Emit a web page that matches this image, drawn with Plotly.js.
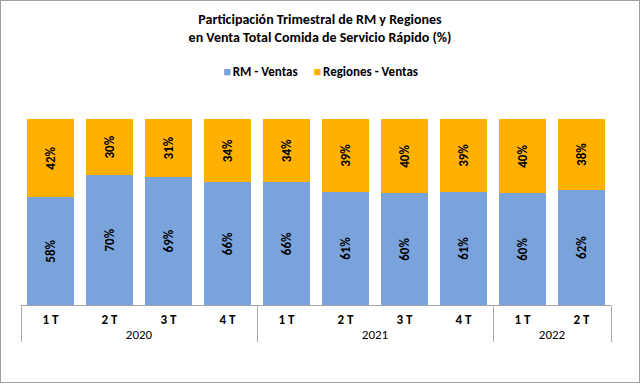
<!DOCTYPE html>
<html>
<head>
<meta charset="utf-8">
<script src="https://cdn.plot.ly/plotly-3.0.1.min.js"></script>
<style>
html,body{margin:0;padding:0;background:#fff;}
#chart{position:absolute;left:0;top:0;width:638px;height:381px;border:1px solid #a0a0a0;}
</style>
</head>
<body>
<div id="chart"></div>
<script>
var years = ["2020","2020","2020","2020","2021","2021","2021","2021","2022","2022"];
var quarters = ["1 T","2 T","3 T","4 T","1 T","2 T","3 T","4 T","1 T","2 T"];
var rmVentas = [58,70,69,66,66,61,60,61,60,62];
var regionesVentas = [42,30,31,34,34,39,40,39,40,38];
var seriesNames = ["RM - Ventas", "Regiones - Ventas"];
var seriesColors = ["#7aa3dc", "#ffb000"];

var FONT = "Carlito, 'Liberation Sans Narrow', 'Open Sans', sans-serif";

function pct(arr){ return arr.map(function(v){ return "<b>" + v + "%</b>"; }); }
var quarterLabels = quarters.map(function(q){ return "<b>" + q + "</b>"; });

var values = [rmVentas, regionesVentas];
var legendIds = ["legend", "legend2"];
var traces = [];
values.forEach(function(vals, i){
  traces.push({
    type: "bar", name: seriesNames[i], showlegend: false,
    x: [years, quarterLabels], y: vals,
    marker: {color: seriesColors[i]},
    text: pct(vals), textposition: "inside", insidetextanchor: "middle",
    textangle: -90, textfont: {family: FONT, size: 13, color: "#000"},
    hoverinfo: "skip"
  });
});
// legend entries: swatch drawn as a coloured square glyph right before the name
values.forEach(function(vals, i){
  traces.push({
    type: "scatter", mode: "markers",
    name: "<span style='color:" + seriesColors[i] + "'>■</span>\u200A<b>" + seriesNames[i] + "</b>",
    x: [null], y: [null], xaxis: "x2", yaxis: "y2",
    marker: {symbol: "square", size: 1, color: "rgba(0,0,0,0)", line: {width: 0}},
    showlegend: true, legend: legendIds[i], hoverinfo: "skip"
  });
});

var legendBase = {
  orientation: "h", xanchor: "left", y: 1.258, yanchor: "middle",
  font: {family: FONT, size: 13, color: "#000"}, itemwidth: 30,
  bgcolor: "rgba(0,0,0,0)"
};

var layout = {
  width: 638, height: 381,
  margin: {l: 20, r: 28, t: 118, b: 77},
  paper_bgcolor: "#fff", plot_bgcolor: "#fff",
  barmode: "stack", bargap: 0.2,
  font: {family: FONT, size: 12, color: "#000"},
  title: {
    text: "<b>Participación Trimestral de RM y Regiones<br>en Venta Total Comida de Servicio Rápido (%)</b>",
    x: 0.5, xanchor: "center", y: 0.94, yanchor: "top",
    font: {family: FONT, size: 14, color: "#000"}
  },
  showlegend: true,
  legend: Object.assign({}, legendBase, {x: 0.275}),
  legend2: Object.assign({}, legendBase, {x: 0.428}),
  xaxis: {
    type: "multicategory",
    showline: true, linecolor: "#a6a6a6", linewidth: 1,
    showdividers: true, dividercolor: "#a6a6a6", dividerwidth: 1,
    ticks: "", tickfont: {family: FONT, size: 13, color: "#000"},
    ticklabelstandoff: 2,
    fixedrange: true
  },
  yaxis: {
    range: [0, 100], visible: false, showgrid: false, fixedrange: true
  },
  xaxis2: {overlaying: "x", visible: false, range: [0, 1]},
  yaxis2: {overlaying: "y", visible: false, range: [0, 1]}
};

Plotly.newPlot("chart", traces, layout, {displayModeBar: false, staticPlot: true});
</script>
</body>
</html>
